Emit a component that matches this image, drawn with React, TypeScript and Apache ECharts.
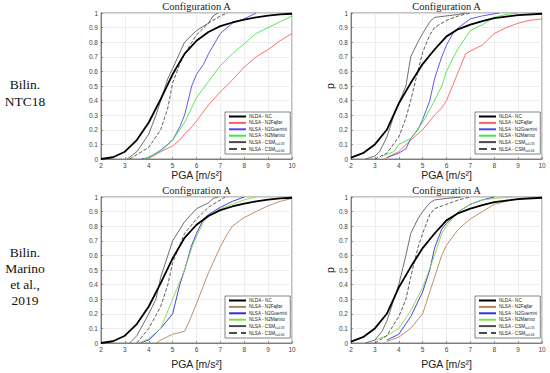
import React, { useEffect, useRef } from 'react';
import * as echarts from 'echarts';

const xTicks = [2, 3, 4, 5, 6, 7, 8, 9, 10];
const seriesLabels = ['NLDA - NC', 'NLSA - N2Fajfar', 'NLSA - N2Guerrini', 'NLSA - N2Marino', 'NLSA - CSM', 'NLSA - CSM'];
const seriesSubs = ['', '', '', '', 'λ=0.33', 'λ=0.66'];
const panelTitles = ['Configuration A', 'Configuration A', 'Configuration A', 'Configuration A'];
const rowLabelTop = ['Bilin.', 'NTC18'];
const rowLabelBottom = ['Bilin.', 'Marino', 'et al.,', '2019'];

// Panel 1 (top-left)
const p1NC = [[2, 0], [2.5, 0.012], [3, 0.05], [3.5, 0.13], [4, 0.25], [4.5, 0.41], [5, 0.58], [5.5, 0.72], [6, 0.81], [6.5, 0.87], [7, 0.91], [7.5, 0.935], [8, 0.955], [8.5, 0.97], [9, 0.982], [9.5, 0.99], [10, 0.995]];
const p1Fajfar = [[3.8, 0], [4.2, 0.02], [4.5, 0.05], [5, 0.09], [5.3, 0.13], [5.5, 0.17], [5.8, 0.22], [6, 0.26], [6.5, 0.37], [7, 0.46], [7.5, 0.54], [8, 0.63], [8.5, 0.7], [9, 0.75], [9.5, 0.81], [10, 0.86]];
const p1Guerrini = [[3.7, 0], [4, 0.01], [4.5, 0.06], [5, 0.13], [5.3, 0.22], [5.5, 0.3], [5.8, 0.5], [6, 0.58], [6.3, 0.65], [6.5, 0.72], [7, 0.86], [7.5, 0.93], [8, 0.96], [8.5, 1]];
const p1Marino = [[3.8, 0], [4.5, 0.05], [5, 0.13], [5.5, 0.25], [6, 0.42], [6.5, 0.53], [7, 0.64], [7.5, 0.72], [8, 0.79], [8.5, 0.86], [9, 0.9], [9.5, 0.94], [10, 0.98]];
const p1Csm33 = [[3.1, 0], [3.5, 0.05], [4, 0.17], [4.3, 0.3], [4.5, 0.4], [4.8, 0.55], [5, 0.62], [5.5, 0.8], [6, 0.88], [6.5, 0.93], [6.7, 0.98], [6.9, 1]];
const p1Csm66 = [[3.2, 0], [4, 0.08], [4.5, 0.2], [4.8, 0.35], [5, 0.52], [5.3, 0.65], [5.5, 0.72], [6, 0.85], [6.5, 0.93], [7, 0.98], [7.3, 1]];

// Panel 2 (top-right)
const p2NC = [[2, 0.01], [2.5, 0.04], [3, 0.1], [3.5, 0.2], [4, 0.38], [4.5, 0.52], [5, 0.65], [5.5, 0.75], [6, 0.84], [6.5, 0.89], [7, 0.92], [7.5, 0.945], [8, 0.965], [9, 0.985], [10, 0.995]];
const p2Fajfar = [[3.4, 0], [4, 0.05], [4.5, 0.13], [5, 0.2], [5.5, 0.3], [5.8, 0.35], [6, 0.4], [6.3, 0.52], [6.5, 0.6], [6.8, 0.72], [7, 0.74], [7.5, 0.78], [8, 0.86], [8.5, 0.9], [9, 0.93], [9.5, 0.95], [10, 0.96]];
const p2Guerrini = [[3.5, 0.01], [4, 0.04], [4.3, 0.07], [4.5, 0.14], [4.8, 0.2], [5, 0.27], [5.3, 0.4], [5.5, 0.55], [5.8, 0.7], [6, 0.78], [6.3, 0.87], [6.5, 0.9], [7, 0.96], [7.5, 0.98], [8.2, 1]];
const p2Marino = [[3.3, 0.02], [3.8, 0.05], [4, 0.1], [4.5, 0.14], [5, 0.25], [5.5, 0.4], [5.8, 0.5], [6, 0.6], [6.3, 0.7], [6.5, 0.76], [7, 0.88], [7.5, 0.92], [8, 0.97], [8.5, 0.99], [9, 1]];
const p2Csm33 = [[2.6, 0], [3, 0.02], [3.2, 0.05], [3.5, 0.15], [3.8, 0.3], [4, 0.38], [4.3, 0.5], [4.5, 0.7], [4.8, 0.8], [5, 0.86], [5.3, 0.94], [5.5, 0.97], [6, 0.98], [6.5, 0.99], [6.8, 1]];
const p2Csm66 = [[3, 0], [3.5, 0.04], [4, 0.15], [4.3, 0.28], [4.5, 0.4], [4.8, 0.6], [5, 0.73], [5.3, 0.85], [5.5, 0.9], [6, 0.95], [6.5, 0.98], [7, 1]];

// Panel 3 (bottom-left)
const p3NC = [[2, 0], [2.5, 0.012], [3, 0.05], [3.5, 0.13], [4, 0.25], [4.5, 0.41], [5, 0.58], [5.5, 0.72], [6, 0.81], [6.5, 0.87], [7, 0.91], [7.5, 0.935], [8, 0.955], [8.5, 0.97], [9, 0.982], [9.5, 0.99], [10, 0.995]];
const p3Fajfar = [[4.3, 0], [4.5, 0.02], [5, 0.06], [5.5, 0.08], [5.7, 0.15], [6, 0.27], [6.5, 0.48], [7, 0.66], [7.3, 0.75], [7.5, 0.8], [8, 0.86], [8.5, 0.9], [9, 0.94], [9.5, 0.97], [10, 0.99]];
const p3Guerrini = [[3.6, 0], [4, 0.02], [4.5, 0.1], [5, 0.2], [5.3, 0.4], [5.5, 0.5], [5.8, 0.67], [6, 0.75], [6.3, 0.85], [6.5, 0.88], [7, 0.93], [7.5, 0.97], [8, 1]];
const p3Marino = [[3.6, 0], [4, 0.03], [4.5, 0.1], [5, 0.3], [5.5, 0.5], [5.8, 0.65], [6, 0.73], [6.3, 0.83], [6.5, 0.87], [7, 0.92], [7.5, 0.95], [8, 0.98], [8.5, 1]];
const p3Csm33 = [[3.2, 0], [3.5, 0.05], [4, 0.2], [4.3, 0.3], [4.5, 0.45], [4.8, 0.6], [5, 0.7], [5.5, 0.83], [6, 0.92], [6.5, 0.96], [6.7, 0.99], [6.9, 1]];
const p3Csm66 = [[3.5, 0], [4, 0.1], [4.5, 0.25], [4.8, 0.4], [5, 0.55], [5.5, 0.75], [6, 0.85], [6.5, 0.93], [7, 0.98], [7.2, 1]];

// Panel 4 (bottom-right)
const p4NC = [[2, 0.01], [2.5, 0.04], [3, 0.1], [3.5, 0.2], [4, 0.38], [4.5, 0.52], [5, 0.65], [5.5, 0.75], [6, 0.84], [6.5, 0.89], [7, 0.92], [7.5, 0.945], [8, 0.965], [9, 0.985], [10, 0.995]];
const p4Fajfar = [[3.5, 0.01], [4, 0.04], [4.5, 0.1], [5, 0.2], [5.3, 0.35], [5.5, 0.45], [5.8, 0.6], [6, 0.67], [6.5, 0.78], [7, 0.85], [7.5, 0.9], [8, 0.95], [8.5, 0.97], [9, 0.99], [10, 1]];
const p4Guerrini = [[3.5, 0.02], [4, 0.06], [4.5, 0.18], [5, 0.35], [5.3, 0.5], [5.5, 0.65], [5.8, 0.78], [6, 0.82], [6.5, 0.9], [7, 0.95], [7.5, 0.98], [8, 1]];
const p4Marino = [[3, 0.02], [3.5, 0.05], [4, 0.1], [4.5, 0.22], [5, 0.38], [5.5, 0.6], [5.8, 0.75], [6, 0.8], [6.5, 0.9], [7, 0.95], [7.5, 0.98], [8, 0.99], [8.8, 1]];
const p4Csm33 = [[2.6, 0], [3, 0.02], [3.3, 0.08], [3.5, 0.15], [3.8, 0.3], [4, 0.4], [4.3, 0.6], [4.5, 0.75], [4.8, 0.85], [5, 0.9], [5.3, 0.96], [5.5, 0.98], [6, 0.99], [6.6, 1]];
const p4Csm66 = [[3, 0], [3.5, 0.05], [4, 0.18], [4.3, 0.3], [4.5, 0.45], [4.8, 0.65], [5, 0.75], [5.3, 0.88], [5.5, 0.92], [6, 0.95], [6.5, 0.98], [7, 1]];

const panelData = [
  [p1NC, p1Fajfar, p1Guerrini, p1Marino, p1Csm33, p1Csm66],
  [p2NC, p2Fajfar, p2Guerrini, p2Marino, p2Csm33, p2Csm66],
  [p3NC, p3Fajfar, p3Guerrini, p3Marino, p3Csm33, p3Csm66],
  [p4NC, p4Fajfar, p4Guerrini, p4Marino, p4Csm33, p4Csm66],
];

const topColors = ['#000000', '#ff6060', '#4b4be6', '#44e844', '#4a4a4a', '#4a4a4a'];
const bottomColors = ['#000000', '#b8825a', '#2f2fd8', '#8ad84e', '#4a4a4a', '#4a4a4a'];
const widths = [1.8, 0.9, 0.9, 0.9, 0.8, 0.9];
const types = ['solid', 'solid', 'solid', 'solid', 'solid', 'dashed'];

const grids = [
  { left: 101, top: 13, width: 191, height: 146 },
  { left: 351, top: 13, width: 191, height: 146 },
  { left: 101, top: 197, width: 191, height: 146 },
  { left: 351, top: 197, width: 191, height: 146 },
];
const xNameGaps = [9, 9, 15, 15];

export default function App() {
  const ref = useRef<HTMLDivElement>(null);
  useEffect(() => {
    if (!ref.current) return;
    const chart = echarts.init(ref.current, null, { renderer: 'svg' });
    const sans = 'Liberation Sans, Arial, sans-serif';
    const serif = 'Liberation Serif, DejaVu Serif, serif';

    const series: any[] = [];
    const legends: any[] = [];
    panelData.forEach((arrs, pi) => {
      const colors = pi < 2 ? topColors : bottomColors;
      const names: string[] = [];
      arrs.forEach((d, si) => {
        const name = `${pi}|${si}`;
        names.push(name);
        series.push({
          type: 'line',
          name,
          xAxisIndex: pi,
          yAxisIndex: pi,
          data: d,
          showSymbol: false,
          symbol: 'none',
          z: si === 0 ? 3 : 2,
          lineStyle: { color: colors[si], width: widths[si], type: types[si] },
          itemStyle: { color: colors[si] },
        });
      });
      const g = grids[pi];
      legends.push({
        orient: 'vertical',
        left: g.left + 124,
        top: g.top + 99,
        width: 66,
        padding: [2, 3, 2, 3],
        itemGap: 1.4,
        itemWidth: 17,
        itemHeight: 5,
        backgroundColor: '#ffffff',
        borderColor: '#333',
        borderWidth: 0.6,
        data: names,
        selectedMode: false,
        itemStyle: { opacity: 0 },
        formatter: (n: string) => {
          const si = Number(n.split('|')[1]);
          const base = seriesLabels[si];
          return seriesSubs[si] ? `${base}{s|${seriesSubs[si]}}` : base;
        },
        textStyle: {
          fontSize: 4.6,
          fontFamily: sans,
          color: '#222',
          padding: [0, 0, 0, -2],
          rich: { s: { fontSize: 3, fontFamily: sans, color: '#222', padding: [3, 0, 0, 0] } },
        },
      });
    });

    const option: any = {
      animation: false,
      backgroundColor: '#ffffff',
      title: grids.map((g, i) => ({
        text: panelTitles[i],
        left: g.left + g.width / 2,
        top: g.top - 12,
        textAlign: 'center',
        padding: 0,
        textStyle: { fontFamily: serif, fontSize: 10.5, fontWeight: 'normal', color: '#222' },
      })),
      grid: grids.map((g) => ({ ...g, show: true, borderColor: '#555', borderWidth: 0.7, backgroundColor: '#fff' })),
      legend: legends,
      xAxis: grids.map((_, i) => ({
        type: 'value',
        gridIndex: i,
        min: xTicks[0],
        max: xTicks[xTicks.length - 1],
        interval: 1,
        name: 'PGA [m/s²]',
        nameLocation: 'middle',
        nameGap: xNameGaps[i],
        nameTextStyle: { fontFamily: sans, fontSize: 10.5, color: '#222' },
        axisLine: { show: true, lineStyle: { color: '#555', width: 0.7 } },
        axisTick: { show: true, inside: true, length: 2, lineStyle: { color: '#555', width: 0.6 } },
        axisLabel: { fontFamily: sans, fontSize: 6.5, color: '#444', margin: 3 },
        splitLine: { show: true, lineStyle: { color: '#e6e6e6', width: 0.7 } },
      })),
      yAxis: grids.map((_, i) => ({
        type: 'value',
        gridIndex: i,
        min: 0,
        max: 1,
        interval: 0.1,
        name: i % 2 === 1 ? 'p' : '',
        nameLocation: 'middle',
        nameGap: 15,
        nameTextStyle: { fontFamily: sans, fontSize: 10.5, color: '#222' },
        axisLine: { show: true, lineStyle: { color: '#555', width: 0.7 } },
        axisTick: { show: true, inside: true, length: 2, lineStyle: { color: '#555', width: 0.6 } },
        axisLabel: {
          fontFamily: sans,
          fontSize: 6.5,
          color: '#444',
          margin: 3,
          formatter: (v: number) => String(Math.round(v * 10) / 10),
        },
        splitLine: { show: true, lineStyle: { color: '#e6e6e6', width: 0.7 } },
      })),
      graphic: [
        ...rowLabelTop.map((t, i) => ({
          type: 'text',
          x: 25,
          y: 84 + i * 17,
          style: { text: t, fontFamily: serif, fontSize: 13.5, fill: '#111', align: 'center', verticalAlign: 'middle' },
        })),
        ...rowLabelBottom.map((t, i) => ({
          type: 'text',
          x: 25,
          y: 252 + i * 16,
          style: { text: t, fontFamily: serif, fontSize: 13.5, fill: '#111', align: 'center', verticalAlign: 'middle' },
        })),
      ],
      series,
    };
    chart.setOption(option);
    return () => chart.dispose();
  }, []);
  return <div ref={ref} style={{ position: 'fixed', left: 0, top: 0, width: 550, height: 373 }} />;
}
